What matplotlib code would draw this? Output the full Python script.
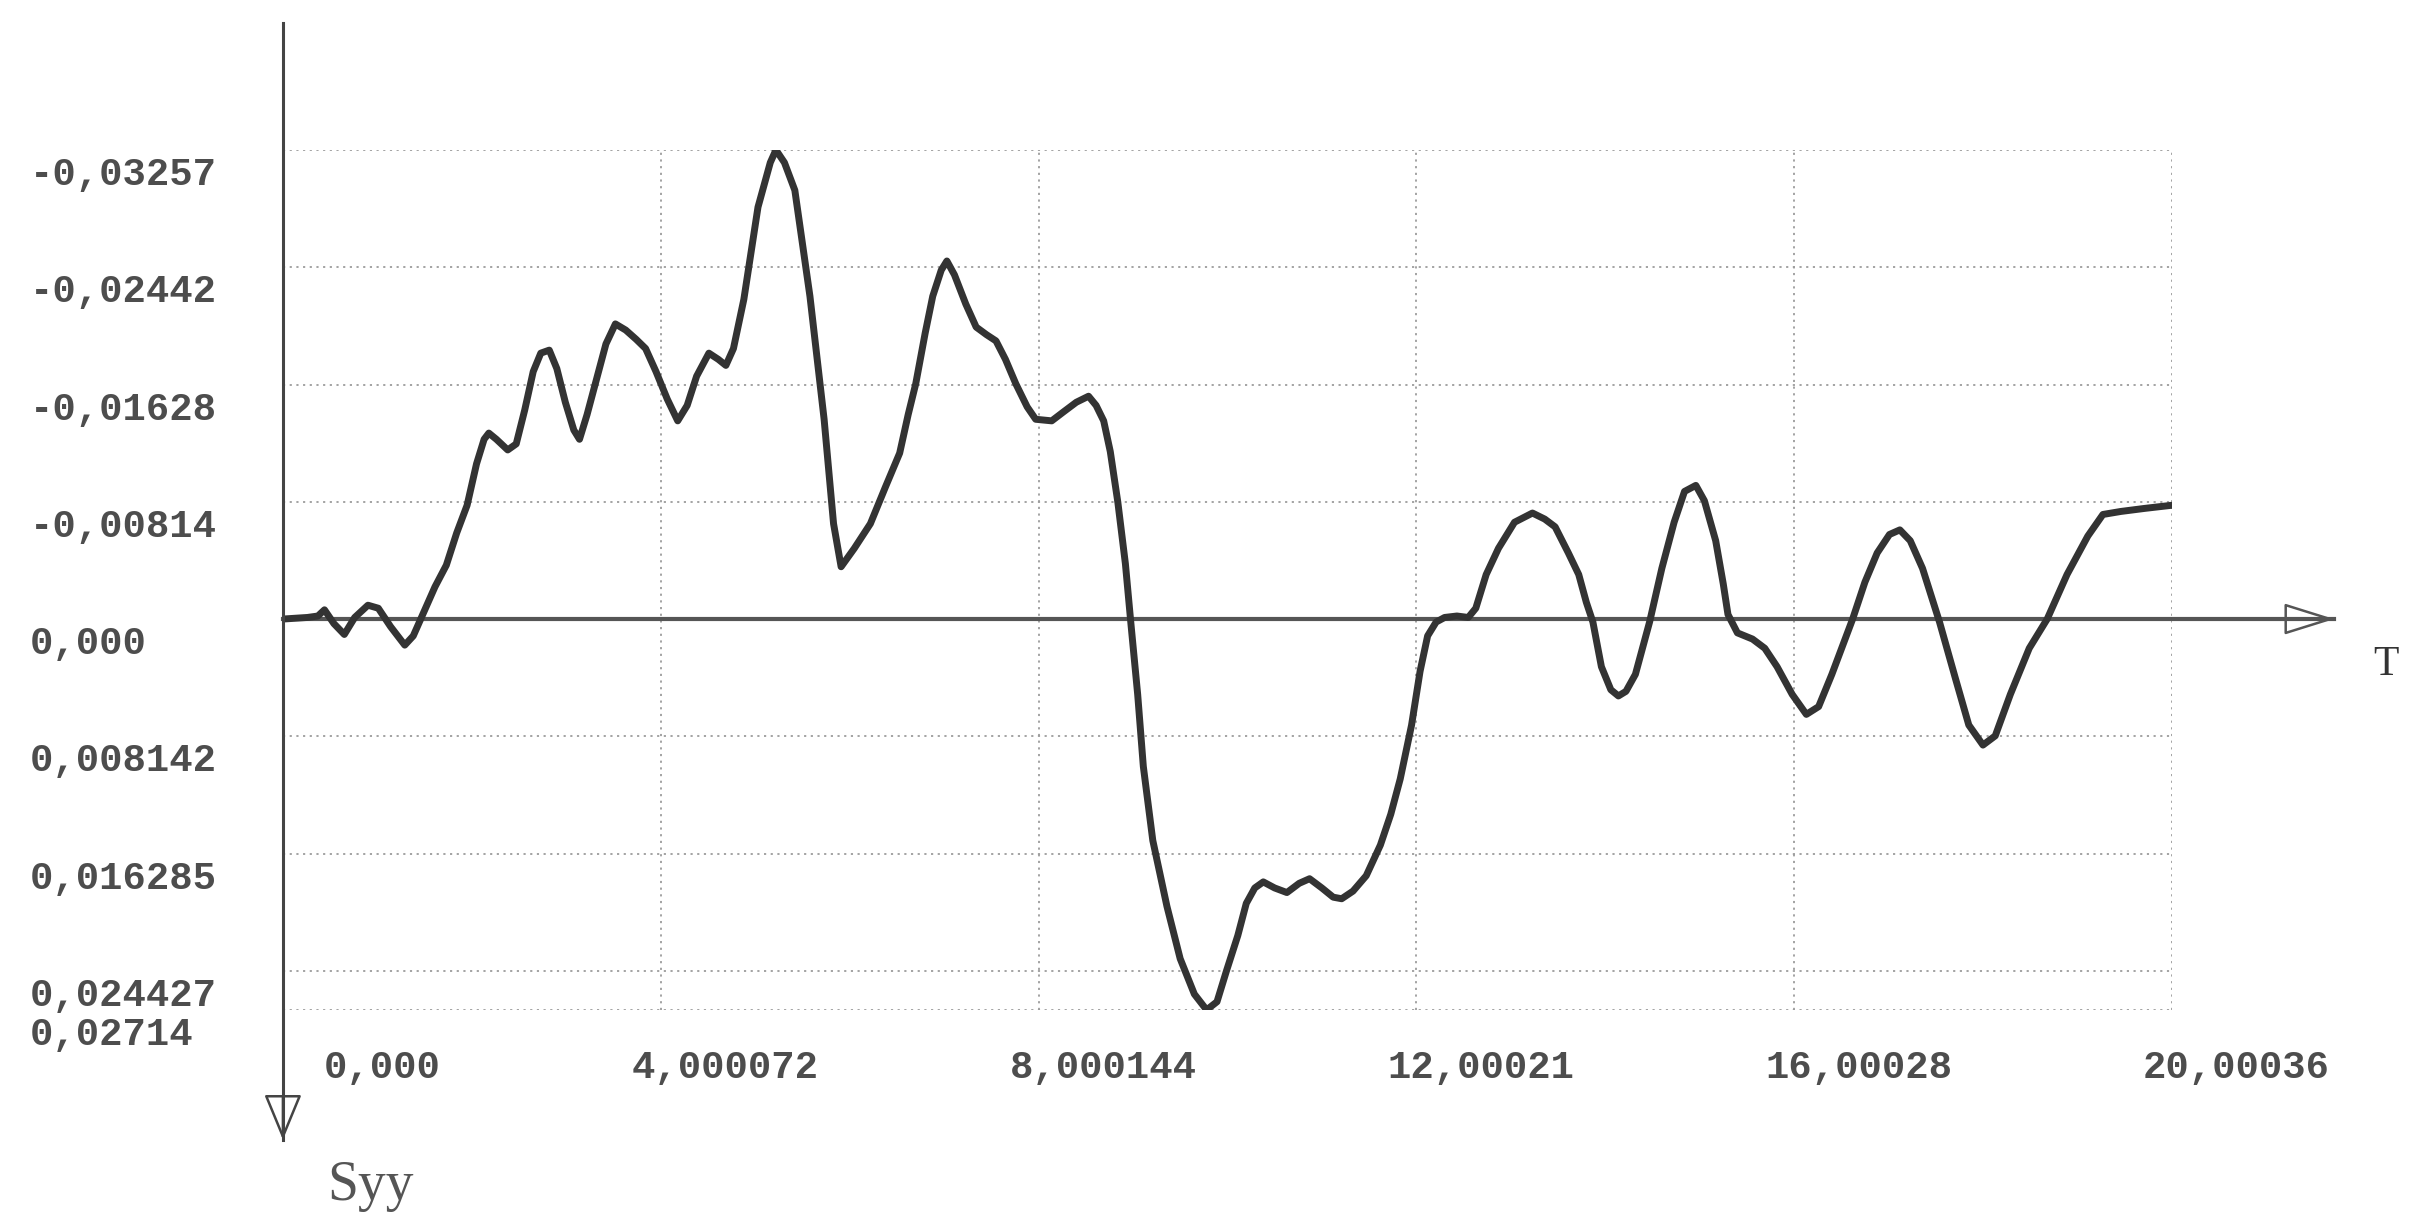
import matplotlib.pyplot as plt
from matplotlib.transforms import ScaledTranslation


# Syy(T)
time = [
    0.00, 0.26, 0.37, 0.44, 0.54, 0.65, 0.76, 0.90, 1.01, 1.14,
    1.29, 1.38, 1.48, 1.61, 1.73, 1.84, 1.95, 2.05, 2.13, 2.18,
    2.26, 2.38, 2.47, 2.56, 2.65, 2.73, 2.82, 2.90, 2.99, 3.08,
    3.14, 3.22, 3.32, 3.42, 3.52, 3.63, 3.74, 3.84, 3.95, 4.07,
    4.18, 4.28, 4.38, 4.51, 4.61, 4.69, 4.77, 4.88, 5.03, 5.16,
    5.22, 5.31, 5.42, 5.58, 5.73, 5.83, 5.91, 6.05, 6.22, 6.38,
    6.53, 6.62, 6.70, 6.80, 6.88, 6.97, 7.03, 7.11, 7.23, 7.34,
    7.45, 7.55, 7.65, 7.76, 7.88, 7.97, 8.14, 8.27, 8.40, 8.53,
    8.61, 8.69, 8.76, 8.84, 8.92, 8.98, 9.05, 9.11, 9.21, 9.36,
    9.50, 9.65, 9.78, 9.89, 9.99, 10.11, 10.20, 10.29, 10.38, 10.50,
    10.63, 10.76, 10.87, 11.00, 11.12, 11.21, 11.33, 11.47, 11.62, 11.73,
    11.83, 11.95, 12.04, 12.12, 12.21, 12.30, 12.43, 12.55, 12.63, 12.74,
    12.87, 13.04, 13.23, 13.36, 13.47, 13.61, 13.72, 13.80, 13.87, 13.96,
    14.06, 14.14, 14.22, 14.32, 14.47, 14.60, 14.73, 14.84, 14.96, 15.05,
    15.17, 15.25, 15.30, 15.40, 15.56, 15.69, 15.82, 15.98, 16.13, 16.26,
    16.40, 16.62, 16.75, 16.88, 17.01, 17.12, 17.23, 17.36, 17.54, 17.71,
    17.85, 18.00, 18.13, 18.29, 18.49, 18.68, 18.89, 19.11, 19.27, 19.46,
    19.71, 20.00036,
]
syy = [
    0.0, -0.00011, -0.00021, -0.00064, 0.00032, 0.00107, -0.00011, -0.00096, -0.00075, 0.00053,
    0.00181, 0.00117, -0.00032, -0.00224, -0.00374, -0.00598, -0.0079, -0.01078, -0.01248, -0.01291,
    -0.01248, -0.01174, -0.01216, -0.01451, -0.01718, -0.01846, -0.01867, -0.01739, -0.01505, -0.01312,
    -0.01248, -0.01419, -0.01665, -0.0191, -0.02049, -0.02006, -0.01942, -0.01878, -0.01718, -0.01526,
    -0.01376, -0.01483, -0.01686, -0.01846, -0.01803, -0.01761, -0.01878, -0.02219, -0.0286, -0.03169,
    -0.03257, -0.03169, -0.02977, -0.02241, -0.01387, -0.00662, -0.00363, -0.00491, -0.00662, -0.00918,
    -0.01152, -0.01419, -0.01633, -0.01985, -0.02241, -0.02422, -0.02486, -0.0239, -0.02187, -0.02027,
    -0.01974, -0.01931, -0.01803, -0.01633, -0.01473, -0.01387, -0.01376, -0.01441, -0.01505, -0.01547,
    -0.01483, -0.01376, -0.01163, -0.00811, -0.00384, 0.00043, 0.00523, 0.01024, 0.01537, 0.01995,
    0.02358, 0.02604, 0.02714, 0.02657, 0.02443, 0.02198, 0.01974, 0.01867, 0.01825, 0.01867,
    0.01899, 0.01835, 0.01803, 0.01867, 0.01931, 0.01942, 0.01889, 0.01782, 0.01569, 0.01355,
    0.0111, 0.00736, 0.00363, 0.00117, 0.00021, -0.00011, -0.00021, -0.00011, -0.00075, -0.00309,
    -0.00491, -0.00672, -0.00736, -0.00694, -0.0064, -0.00459, -0.00309, -0.00117, 0.00021, 0.00331,
    0.00491, 0.00534, 0.00502, 0.00384, 0.00021, -0.00352, -0.00672, -0.00886, -0.00928, -0.00822,
    -0.00544, -0.00245, -0.00032, 0.00096, 0.00139, 0.00203, 0.00331, 0.00523, 0.00662, 0.00608,
    0.00384, 0.0, -0.00256, -0.00459, -0.00587, -0.00619, -0.00544, -0.00352, 0.00021, 0.00416,
    0.00736, 0.00875, 0.00811, 0.00523, 0.00203, 0.0, -0.00309, -0.00576, -0.00726, -0.00747,
    -0.00768, -0.0079,
]

time_ticks = [0.0, 4.000072, 8.000144, 12.00021, 16.00028, 20.00036]
time_labels = ['0,000', '4,000072', '8,000144', '12,00021', '16,00028', '20,00036']
syy_ticks = [-0.03257, -0.02442, -0.01628, -0.00814, 0.0,
             0.008142, 0.016285, 0.024427, 0.02714]
syy_labels = ['-0,03257', '-0,02442', '-0,01628', '-0,00814', '0,000',
              '0,008142', '0,016285', '0,024427', '0,02714']

ink = '#333333'
label_color = '#4d4d4d'
tick_font = dict(family='Liberation Mono', weight='bold', size=28)

fig = plt.figure(figsize=(24.1, 12.13), dpi=100)
ax = fig.add_axes([0.1174, 0.1674, 0.7838, 0.709])

ax.plot(time, syy, color=ink, lw=5.0, solid_joinstyle='round',
        solid_capstyle='round', zorder=4)

# stress grows downward, as on the original printout
ax.set_xlim(time_ticks[0], time_ticks[-1])
ax.set_ylim(syy_ticks[-1], syy_ticks[0])

for side in ax.spines.values():
    side.set_visible(False)

ax.set_xticks(time_ticks, time_labels)
ax.set_yticks(syy_ticks, syy_labels)
ax.grid(True, linestyle=(0, (1.2, 2.5)), color='#9c9c9c', lw=1.3)
ax.tick_params(length=0, labelcolor=label_color)
ax.tick_params(axis='y', pad=182)
ax.tick_params(axis='x', pad=29)

for lab in ax.get_yticklabels():
    lab.set_fontproperties(tick_font)
    lab.set_horizontalalignment('left')
    lab.set_transform(lab.get_transform() +
                      ScaledTranslation(0, -0.21, fig.dpi_scale_trans))
for lab in ax.get_xticklabels():
    lab.set_fontproperties(tick_font)
    lab.set_horizontalalignment('right')
    lab.set_transform(lab.get_transform() +
                      ScaledTranslation(1.58, 0, fig.dpi_scale_trans))

# vertical axis with open arrow at the bottom
ax.plot([0, 0], [1.148, -0.151], transform=ax.transAxes, color='#444444',
        lw=2.2, clip_on=False, zorder=5)
ax.annotate('', xy=(0, -0.151), xytext=(0, -0.10), xycoords='axes fraction',
            arrowprops=dict(arrowstyle='-|>,head_length=1.45,head_width=0.6',
                            mutation_scale=20, lw=1.8, ec='#444444', fc='none',
                            shrinkA=0, shrinkB=0))

# time axis along Syy = 0
ax.plot([0, 1.086], [0, 0], transform=ax.get_yaxis_transform(),
        color='#555555', lw=3.0, clip_on=False, zorder=3)
ax.annotate('', xy=(1.086, 0), xytext=(1.05, 0),
            xycoords=('axes fraction', 'data'),
            arrowprops=dict(arrowstyle='-|>,head_length=1.6,head_width=0.5',
                            mutation_scale=20, lw=1.8, ec='#555555', fc='none',
                            shrinkA=0, shrinkB=0))

ax.text(1.1135, 0.401, 'T', transform=ax.transAxes, ha='center', va='center',
        family='Liberation Serif', size=30, color='#333333')
ax.text(0.0466, -0.205, 'Syy', transform=ax.transAxes, ha='center',
        va='center', family='Liberation Serif', size=40, color='#555555')

fig.savefig('out.png', dpi=100, facecolor='white')
